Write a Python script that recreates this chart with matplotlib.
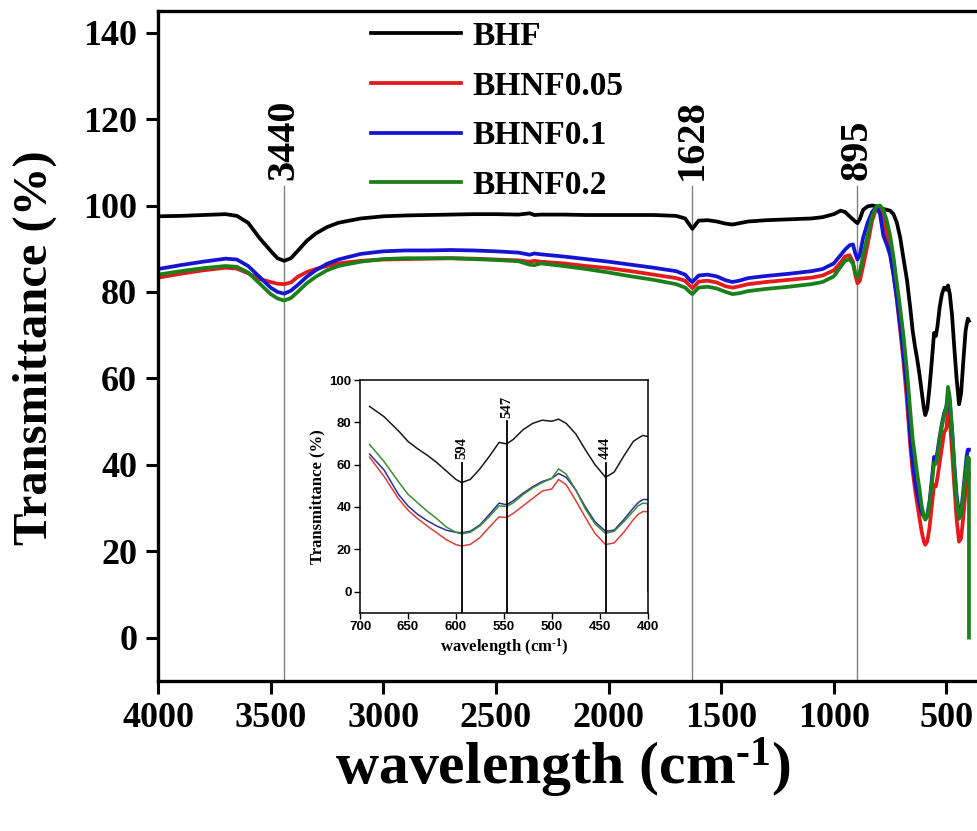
import numpy as np
import matplotlib
matplotlib.use("Agg")
import matplotlib.pyplot as plt

plt.rcParams['font.family'] = ['Liberation Serif', 'DejaVu Serif']
plt.rcParams['font.weight'] = 'bold'
plt.rcParams['mathtext.fontset'] = 'custom'
plt.rcParams['mathtext.rm'] = 'Liberation Serif:bold'
plt.rcParams['mathtext.it'] = 'Liberation Serif:bold'
plt.rcParams['mathtext.bf'] = 'Liberation Serif:bold'

# FTIR spectra, wavenumber (cm-1) vs transmittance (%)
wn = [4000, 3900, 3800, 3700, 3650, 3600, 3550, 3500, 3470, 3440, 3410, 3380,
      3340, 3300, 3250, 3200, 3100, 3000, 2900, 2800, 2700, 2600, 2500, 2400,
      2350, 2330, 2300, 2200, 2100, 2000, 1900, 1800, 1700, 1660, 1640, 1628,
      1615, 1600, 1560, 1520, 1480, 1450, 1420, 1380, 1300, 1200, 1100, 1050,
      1000, 970, 950, 930, 915, 905, 895, 885, 870, 850, 830, 810, 795, 780,
      765, 750, 735, 720, 705, 690, 675, 660, 650, 640, 630, 620, 610, 600,
      594, 585, 575, 565, 555, 547, 540, 530, 520, 510, 500, 493, 485, 475,
      465, 455, 444, 435, 425, 415, 410, 405, 400]

bhf = [97.5, 97.6, 97.8, 98.0, 97.6, 96.0, 92.5, 89.5, 87.8, 87.2, 87.8, 89.5,
       91.8, 93.5, 95.0, 96.0, 97.0, 97.5, 97.7, 97.8, 97.9, 98.0, 98.0, 97.9,
       98.2, 97.8, 97.9, 97.9, 97.8, 97.8, 97.8, 97.8, 97.6, 97.0, 95.5, 94.6,
       95.5, 96.5, 96.6, 96.3, 95.8, 95.6, 95.9, 96.3, 96.6, 96.8, 97.0, 97.3,
       98.0, 98.8, 98.5, 97.5, 96.8, 96.3, 95.9, 96.8, 99.0, 99.8, 100.0, 99.8,
       99.5, 99.2, 99.0, 98.8, 98.0, 96.0, 92.5, 87.5, 82.7, 76.0, 71.0, 67.5,
       64.5, 61.0, 57.0, 53.0, 51.5, 53.0, 58.0, 64.0, 70.5, 69.8, 72.0, 76.5,
       79.5, 81.0, 80.5, 81.5, 79.5, 74.5, 67.0, 60.0, 54.0, 56.5, 64.0, 71.0,
       72.5, 73.8, 73.3]

bhnf005 = [83.3, 84.2, 85.0, 85.6, 85.4, 84.3, 83.0, 82.3, 81.9, 81.8, 82.2, 83.5,
           84.6, 85.3, 86.0, 86.6, 87.2, 87.5, 87.6, 87.7, 87.8, 87.7, 87.5, 87.3,
           87.0, 87.2, 87.0, 86.6, 86.0, 85.5, 84.8, 84.0, 83.2, 82.6, 81.5, 80.9,
           81.5, 82.4, 82.6, 82.2, 81.3, 81.0, 81.3, 81.8, 82.3, 82.8, 83.3, 83.8,
           85.0, 86.8, 88.2, 88.5, 87.0, 84.0, 82.0, 82.5, 86.0, 91.0, 96.5, 99.5,
           99.8, 97.0, 93.0, 89.0, 84.0, 78.0, 71.0, 63.5, 54.5, 44.0, 38.5, 34.5,
           31.0, 27.8, 24.5, 22.2, 21.5, 22.3, 25.5, 30.5, 35.3, 35.0, 37.0, 40.5,
           44.0, 47.5, 48.5, 53.0, 50.5, 43.0, 35.0, 27.5, 22.2, 23.0, 28.0, 34.0,
           36.5, 37.8, 37.8]

bhnf01 = [85.3, 86.2, 87.0, 87.7, 87.5, 86.0, 83.5, 81.0, 80.0, 79.6, 80.3, 81.6,
          83.5, 85.0, 86.5, 87.5, 88.8, 89.4, 89.6, 89.6, 89.7, 89.6, 89.4, 89.1,
          88.6, 88.9, 88.7, 88.2, 87.6, 87.0, 86.3, 85.6, 84.8, 84.0, 82.8, 82.3,
          83.0, 83.8, 84.0, 83.6, 82.7, 82.3, 82.6, 83.2, 83.7, 84.2, 84.8, 85.3,
          86.6, 88.5, 89.8, 90.8, 91.0, 89.0, 87.5, 88.5, 92.5, 96.0, 98.5, 99.8,
          98.0, 93.0, 91.0, 88.5, 84.0, 78.5, 72.0, 65.0, 57.5, 46.0, 40.5, 36.5,
          33.5, 31.0, 29.0, 28.0, 27.8, 28.5, 31.5, 36.5, 41.8, 41.0, 43.0, 46.5,
          49.5, 52.0, 53.5, 55.8, 54.0, 48.0, 40.0, 33.0, 28.5, 29.0, 34.0, 39.5,
          42.0, 43.5, 43.5]

bhnf02 = [84.0, 84.8, 85.5, 86.0, 85.8, 84.5, 82.0, 79.5, 78.5, 78.0, 78.6, 80.0,
          82.0, 83.5, 85.0, 86.0, 87.0, 87.6, 87.8, 87.8, 87.8, 87.6, 87.4, 87.1,
          86.3, 86.2, 86.6, 86.0, 85.3, 84.5, 83.6, 82.8, 81.8, 81.0, 80.0, 79.5,
          80.2, 81.0, 81.2, 80.8, 80.0, 79.5, 79.7, 80.2, 80.7, 81.2, 81.8, 82.3,
          83.6, 85.8, 87.2, 87.6, 86.5, 84.5, 83.3, 84.5, 88.5, 93.0, 97.5, 99.8,
          100.0, 99.0, 96.5, 93.0, 88.0, 82.0, 76.0, 69.5, 61.5, 52.0, 46.0, 42.0,
          38.0, 34.5, 30.5, 28.0, 27.3, 28.0, 31.0, 35.5, 40.5, 40.2, 42.0, 45.8,
          49.0, 51.5, 53.5, 58.0, 55.5, 48.0, 39.0, 32.0, 27.5, 28.5, 33.0, 38.0,
          40.5, 41.8, 41.5]

# the BHNF0.2 trace falls to zero at the end of the scan
wn_g = wn + [400]
bhnf02_g = bhnf02 + [0.0]

labels = ['BHF', 'BHNF0.05', 'BHNF0.1', 'BHNF0.2']
colors = ['black', '#e41a1c', '#1414d2', '#1a801a']
inset_colors = ['#1a1a1a', '#d9403a', '#2e3192', '#3c8c3c']

bands = [3440, 1628, 895]
inset_bands = [594, 547, 444]
inset_band_tops = [61, 80.5, 61]

series = [(wn, bhf), (wn, bhnf005), (wn, bhnf01), (wn_g, bhnf02_g)]

fig = plt.figure(figsize=(9.78, 8.31), dpi=100)
ax = fig.add_axes([0.1616, 0.1807, 0.8522, 0.806])

for (x, y), lab, c in zip(series, labels, colors):
    ax.plot(x, y, color=c, lw=2.7, label=lab)

for b in bands:
    ax.plot([b, b], [-10, 104.6], color='#808080', lw=1.0, zorder=0)
    ax.text(b, 106, str(b), rotation=90, ha='center', va='bottom',
            fontsize=29, fontweight='bold')

ax.set_xlim(4000, 300)
ax.set_ylim(-10, 145)
ax.set_xticks(np.arange(4000, 499, -500))
ax.set_yticks(np.arange(0, 141, 20))
ax.tick_params(direction='out', length=9, width=2.2, labelsize=26, pad=6)
for lab in ax.get_xticklabels() + ax.get_yticklabels():
    lab.set_fontweight('bold')
for s in ax.spines.values():
    s.set_linewidth(2.4)

leg = ax.legend(loc='upper left', bbox_to_anchor=(0.255, 0.985), frameon=False,
                prop={'size': 24, 'weight': 'bold'}, handlelength=2.7,
                handletextpad=0.35, labelspacing=0.56, borderpad=0,
                borderaxespad=0)

fig.text(35 / 978, 1 - 348 / 831, 'Transmittance (%)', rotation=90,
         ha='center', va='center', fontsize=35, fontweight='bold')
fig.text(563 / 978, 1 - 768 / 831, r'wavelength (cm$^{\text{-1}}$)',
         ha='center', va='center', fontsize=43, fontweight='bold')

# zoom on the metal-oxygen region
ins = fig.add_axes([0.3681, 0.2627, 0.2942, 0.28])
for (x, y), c in zip(series, inset_colors):
    x = np.array(x)
    y = np.array(y)
    m = x <= 690
    ins.plot(x[m], y[m], color=c, lw=1.1)

for b, top in zip(inset_bands, inset_band_tops):
    ins.plot([b, b], [-10, top], color='black', lw=1.3)
    ins.text(b, top + 1.5, str(b), rotation=90, ha='center', va='bottom',
             fontsize=10.5, fontweight='bold')

ins.set_xlim(700, 400)
ins.set_ylim(-10, 100)
ins.set_xticks(np.arange(700, 399, -50))
ins.set_yticks(np.arange(0, 101, 20))
ins.tick_params(direction='out', length=4, width=1.0, labelsize=9.5, pad=2)
for lab in ins.get_xticklabels() + ins.get_yticklabels():
    lab.set_fontfamily('Liberation Sans')
    lab.set_fontweight('bold')
for s in ins.spines.values():
    s.set_linewidth(1.1)
ins.set_ylabel('Transmittance (%)', fontsize=12, fontweight='bold', labelpad=3)
ins.set_xlabel(r'wavelength (cm$^{\text{-1}}$)', fontsize=12, fontweight='bold',
               labelpad=2)

fig.savefig('out.png', dpi=100)
